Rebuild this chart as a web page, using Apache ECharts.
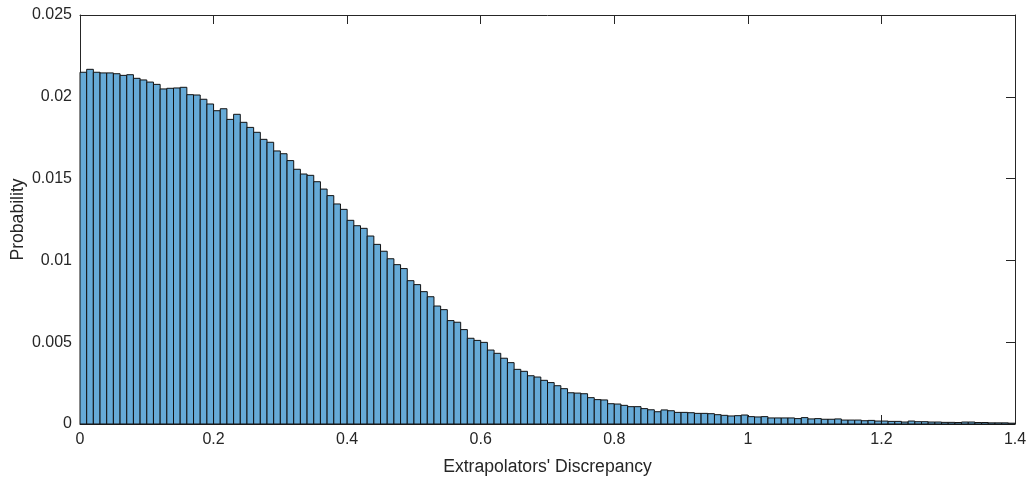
<!DOCTYPE html>
<html>
<head>
<meta charset="utf-8">
<style>html,body{margin:0;padding:0;background:#fff;}#c{width:1029px;height:479px;}</style>
<script src="https://cdn.jsdelivr.net/npm/echarts@6/dist/echarts.min.js"></script>
</head>
<body>
<div id="c"></div>
<script>
var binWidth = 0.01;
var probabilities = [
  0.02150, 0.02168, 0.02150, 0.02146, 0.02146, 0.02141, 0.02131, 0.02135, 0.02113, 0.02103,
  0.02090, 0.02076, 0.02048, 0.02052, 0.02054, 0.02058, 0.02013, 0.02011, 0.01985, 0.01956,
  0.01915, 0.01927, 0.01862, 0.01893, 0.01844, 0.01813, 0.01783, 0.01740, 0.01722, 0.01669,
  0.01652, 0.01610, 0.01557, 0.01528, 0.01520, 0.01481, 0.01436, 0.01396, 0.01345, 0.01312,
  0.01245, 0.01212, 0.01196, 0.01149, 0.01098, 0.01056, 0.01010, 0.00974, 0.00950, 0.00876,
  0.00852, 0.00809, 0.00778, 0.00721, 0.00699, 0.00632, 0.00622, 0.00577, 0.00524, 0.00511,
  0.00499, 0.00452, 0.00432, 0.00402, 0.00375, 0.00334, 0.00322, 0.00295, 0.00287, 0.00267,
  0.00253, 0.00234, 0.00216, 0.00191, 0.00189, 0.00185, 0.00161, 0.00149, 0.00147, 0.00124,
  0.00122, 0.00114, 0.00106, 0.00106, 0.00094, 0.00087, 0.00075, 0.00086, 0.00081, 0.00071,
  0.00071, 0.00069, 0.00065, 0.00065, 0.00063, 0.00057, 0.00053, 0.00049, 0.00051, 0.00055,
  0.00045, 0.00043, 0.00045, 0.00037, 0.00037, 0.00037, 0.00037, 0.00033, 0.00039, 0.00031,
  0.00033, 0.00029, 0.00029, 0.00031, 0.00024, 0.00024, 0.00024, 0.00020, 0.00022, 0.00018,
  0.00018, 0.00016, 0.00016, 0.00012, 0.00018, 0.00014, 0.00014, 0.00012, 0.00012, 0.00010,
  0.00010, 0.00009, 0.00012, 0.00012, 0.00009, 0.00009, 0.00007, 0.00007, 0.00007, 0.00005
];
var xTicks = {min: 0, max: 1.4, interval: 0.2};
var yTicks = {min: 0, max: 0.025, interval: 0.005};
var xLabel = "Extrapolators' Discrepancy";
var yLabel = "Probability";

var data = probabilities.map(function (v, i) {
  return [i * binWidth, (i + 1) * binWidth, v];
});

var axisColor = '#262626';
var font = 'Arial, "Liberation Sans", Helvetica, sans-serif';
function axisBase(pos, showLabels, t) {
  return {
    type: 'value', position: pos, min: t.min, max: t.max, interval: t.interval,
    axisLine: {show: true, onZero: false, lineStyle: {color: axisColor, width: 1}},
    axisTick: {show: true, inside: true, length: 9, lineStyle: {color: axisColor, width: 1}},
    axisLabel: {show: showLabels, color: axisColor, fontSize: 16, fontFamily: font, margin: 8},
    splitLine: {show: false}
  };
}
var chart = echarts.init(document.getElementById('c'), null, {renderer: 'canvas'});
var xb = axisBase('bottom', true, xTicks);
xb.name = xLabel; xb.nameLocation = 'middle'; xb.nameGap = 34; xb.nameMoveOverlap = false;
xb.nameTextStyle = {color: axisColor, fontSize: 17.6, fontFamily: font};
var xt = axisBase('top', false, xTicks);
var yl = axisBase('left', true, yTicks);
yl.name = yLabel; yl.nameLocation = 'middle'; yl.nameGap = 53; yl.nameMoveOverlap = false;
yl.nameTextStyle = {color: axisColor, fontSize: 17.6, fontFamily: font};
var yr = axisBase('right', false, yTicks);

chart.setOption({
  animation: false,
  backgroundColor: '#ffffff',
  grid: {left: 80, right: 14, top: 15, bottom: 55, containLabel: false, outerBoundsMode: 'none'},
  xAxis: [xb, xt],
  yAxis: [yl, yr],
  series: [{
    type: 'custom',
    xAxisIndex: 0, yAxisIndex: 0,
    data: data,
    encode: {x: [0, 1], y: 2},
    renderItem: function (params, api) {
      var p0 = api.coord([api.value(0), 0]);
      var p1 = api.coord([api.value(1), api.value(2)]);
      return {
        type: 'rect',
        shape: {x: p0[0], y: p1[1], width: p1[0] - p0[0], height: p0[1] - p1[1]},
        style: {fill: '#66AAD7', stroke: '#111111', lineWidth: 1}
      };
    }
  }]
});
</script>
</body>
</html>
